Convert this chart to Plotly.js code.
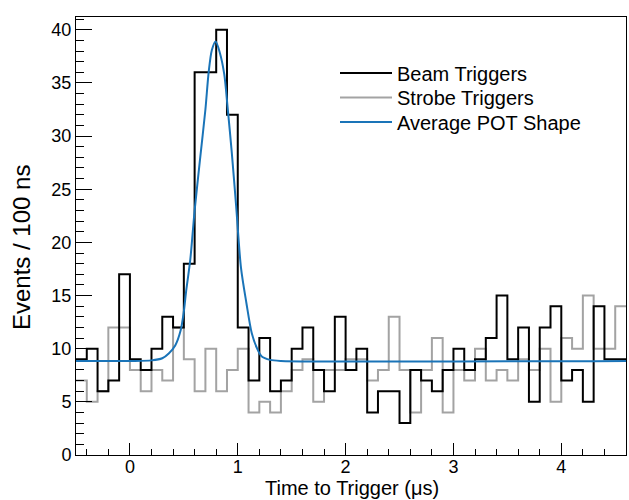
<!DOCTYPE html>
<html>
<head>
<meta charset="utf-8">
<script src="https://cdn.plot.ly/plotly-3.0.1.min.js"></script>
<style>html,body{margin:0;padding:0;background:#fff;}#chart{width:629px;height:500px;}</style>
</head>
<body>
<div id="chart"></div>
<script>
// Histogram binning (microseconds)
const binLow = -0.5;
const binWidth = 0.1;

// Events per 100 ns bin (51 bins from -0.5 to 4.6)
const beamCounts = [9, 10, 6, 7, 17, 9, 8, 10, 13, 12,
                    18, 36, 36, 40, 32, 12, 7, 11, 6, 7,
                    10, 12, 8, 6, 13, 8, 10, 4, 6, 6,
                    3, 8, 7, 6, 8, 10, 8, 9, 11, 15,
                    9, 12, 5, 12, 14, 7, 8, 5, 14, 9, 9];
const strobeCounts = [7, 5, 6, 12, 12, 8, 6, 8, 7, 12,
                      9, 6, 10, 6, 8, 10, 4, 5, 4, 6,
                      8, 9, 5, 8, 8, 9, 9, 7, 8, 13,
                      8, 4, 8, 11, 4, 8, 7, 10, 7, 8,
                      7, 9, 8, 10, 5, 11, 10, 15, 10, 10, 14];

// Average POT shape
const shapeX = [-0.5, 0.0, 0.2, 0.3, 0.36, 0.42, 0.47, 0.5, 0.52, 0.56, 0.6, 0.65, 0.7, 0.73, 0.76, 0.795,
                0.835, 0.875, 0.905, 0.945, 0.985, 1.03, 1.08, 1.13, 1.18, 1.22, 1.3, 1.4, 4.6];
const shapeY = [8.85, 8.85, 8.9, 9.1, 9.55, 10.3, 11.7, 13.5, 15.3, 18.4, 23.0, 27.8, 32.5, 36.0, 38.1, 38.9,
                37.8, 35.8, 32.8, 28.4, 23.4, 17.6, 14.3, 11.45, 10.0, 9.3, 8.95, 8.85, 8.85];

const seriesNames = ['Beam Triggers', 'Strobe Triggers', 'Average POT Shape'];
const xTitle = 'Time to Trigger (\u03bcs)';
const yTitle = 'Events / 100 ns';

function edges(n) {
  const e = [];
  for (let i = 0; i <= n; i++) e.push(+(binLow + i * binWidth).toFixed(4));
  return e;
}
function stepY(vals) { return vals.concat([vals[vals.length - 1]]); }

const font = 'Liberation Sans, Arial, Helvetica, sans-serif';

const traces = [
  {
    type: 'scatter', mode: 'lines', name: seriesNames[1], legend: 'legend2',
    x: edges(strobeCounts.length), y: stepY(strobeCounts),
    line: {shape: 'hv', color: '#a3a3a3', width: 2}
  },
  {
    type: 'scatter', mode: 'lines', name: seriesNames[0], legend: 'legend',
    x: edges(beamCounts.length), y: stepY(beamCounts),
    line: {shape: 'hv', color: '#000000', width: 2}
  },
  {
    type: 'scatter', mode: 'lines', name: seriesNames[2], legend: 'legend3',
    x: shapeX, y: shapeY,
    line: {shape: 'spline', smoothing: 0.8, color: '#1a74b8', width: 2}
  }
];

// frame: left 76, top 17, plot height 438, width 550
function legendAt(rowCenterPx) {
  return {
    x: (335 - 76) / 550, y: (455 - rowCenterPx) / 438, xanchor: 'left', yanchor: 'middle',
    bgcolor: 'rgba(0,0,0,0)', borderwidth: 0,
    font: {family: font, size: 20, color: '#000'},
    itemwidth: 52, tracegroupgap: 0
  };
}

const layout = {
  width: 629, height: 500,
  margin: {l: 76, r: 3, t: 17, b: 45, pad: 0},
  paper_bgcolor: '#ffffff', plot_bgcolor: '#ffffff',
  font: {family: font, color: '#000000', size: 18},
  showlegend: true,
  legend: legendAt(73),
  legend2: legendAt(97.5),
  legend3: legendAt(122),
  xaxis: {
    range: [-0.5, 4.6], tick0: 0, dtick: 1,
    ticks: 'inside', ticklen: 12, tickwidth: 1, tickcolor: '#000',
    showline: true, linecolor: '#000', linewidth: 1, mirror: true,
    showgrid: false, zeroline: false,
    ticklabelstandoff: -5,
    tickfont: {family: font, size: 18, color: '#000'},
    minor: {tick0: 0, dtick: 0.2, ticks: 'inside', ticklen: 6, tickwidth: 1, tickcolor: '#000', showgrid: false}
  },
  yaxis: {
    range: [0, 41.2], tick0: 0, dtick: 5,
    ticks: 'inside', ticklen: 16, tickwidth: 1, tickcolor: '#000',
    showline: true, linecolor: '#000', linewidth: 1, mirror: true,
    showgrid: false, zeroline: false,
    tickfont: {family: font, size: 18, color: '#000'},
    minor: {tick0: 0, dtick: 1, ticks: 'inside', ticklen: 8, tickwidth: 1, tickcolor: '#000', showgrid: false}
  },
  annotations: [
    {
      text: yTitle, textangle: -90, showarrow: false,
      xref: 'paper', yref: 'paper', x: (21 - 76) / 550, y: (455 - 248) / 438,
      xanchor: 'center', yanchor: 'middle',
      font: {family: font, size: 24, color: '#000'}
    },
    {
      text: xTitle, showarrow: false,
      xref: 'paper', yref: 'paper', x: (352 - 76) / 550, y: (455 - 500) / 438,
      xanchor: 'center', yanchor: 'bottom', borderpad: 0,
      font: {family: font, size: 20, color: '#000'}
    }
  ]
};

Plotly.newPlot('chart', traces, layout, {displayModeBar: false, staticPlot: true});
</script>
</body>
</html>
